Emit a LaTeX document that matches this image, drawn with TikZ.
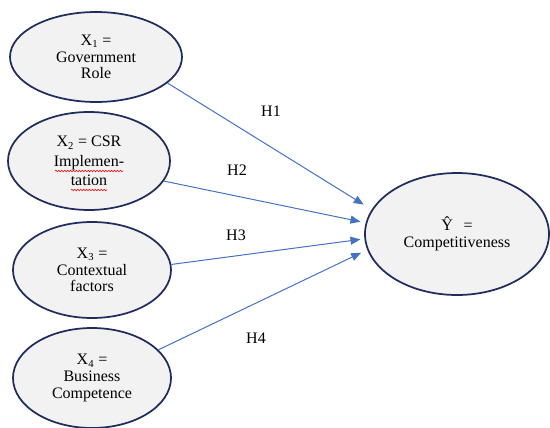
\documentclass[tikz,border=0pt]{standalone}
\usepackage{fontspec}
\setmainfont{Liberation Serif}
\usetikzlibrary{arrows.meta, shapes.geometric, decorations.pathmorphing}
\definecolor{ovalblue}{HTML}{1F2D5E}
\definecolor{ovalfill}{HTML}{F2F2F2}
\definecolor{arrowblue}{HTML}{4472C4}

\begin{document}
\begin{tikzpicture}[
    x=0.75pt, y=-0.75pt,
    >={Triangle[length=7.5pt, width=6pt]},
    oval/.style={ellipse, draw=ovalblue, line width=1.3pt, fill=ovalfill, align=center, inner sep=0pt, font=\fontsize{12}{12.5}\selectfont},
    hyp/.style={->, draw=arrowblue, line width=0.75pt},
    hlabel/.style={font=\fontsize{12}{14}\selectfont},
    spellwave/.style={draw=red, line width=0.4pt, decorate, decoration={snake, segment length=2.2pt, amplitude=0.6pt}}
]
\useasboundingbox (0,0) rectangle (550,428);

% independent variables
\node[oval, minimum width=129pt, minimum height=67.5pt] (x1) at (96,57) {X\textsubscript{1} =\\Government\\Role};
\node[oval, minimum width=121.5pt, minimum height=73.5pt, font=\fontsize{12}{14.5}\selectfont] (x2) at (89,161) {X\textsubscript{2} = CSR\\Implemen-\\tation};
\node[oval, minimum width=118.5pt, minimum height=72pt] (x3) at (92,270) {X\textsubscript{3} =\\Contextual\\factors};
\node[oval, minimum width=118.5pt, minimum height=75pt] (x4) at (92,378) {X\textsubscript{4} =\\Business\\Competence};

% dependent variable
\node[oval, minimum width=138pt, minimum height=91.5pt] (y) at (457,234) {Ŷ\hspace{8pt}=\\Competitiveness};

% spell-check marks
\draw[spellwave] ([shift={(-34,10)}]x2.center) -- ([shift={(34,10)}]x2.center);
\draw[spellwave] ([shift={(-18,29)}]x2.center) -- ([shift={(18,29)}]x2.center);

% hypotheses
\draw[hyp, shorten >=7pt] (x1.-20) -- (y.164);
\draw[hyp, shorten >=4pt] (x2.-15) -- (y.173);
\draw[hyp, shorten >=3pt] (x3.4) -- (y.-177);
\draw[hyp, shorten >=5pt] (x4.23) -- (y.-170);

% labels
\node[hlabel] (h1) at (271,111) {H1};
\node[hlabel] (h2) at (237,170) {H2};
\node[hlabel] (h3) at (236,235) {H3};
\node[hlabel] (h4) at (256,338) {H4};

\end{tikzpicture}
\end{document}
